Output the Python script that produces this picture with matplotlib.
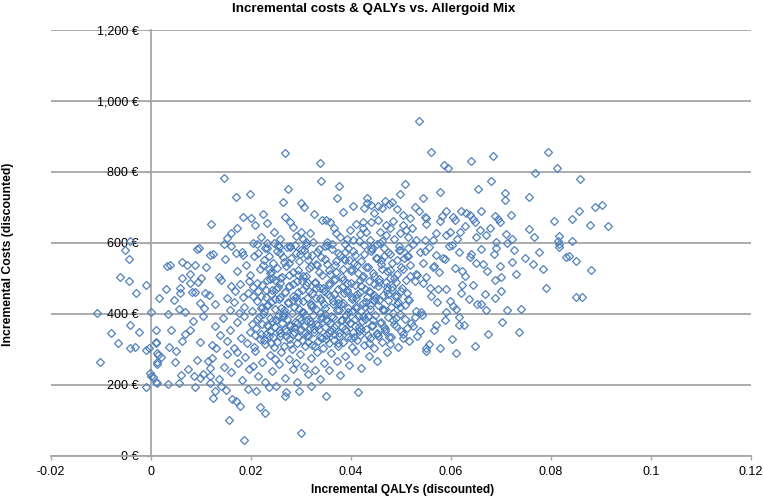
import matplotlib
matplotlib.use("Agg")
import matplotlib.pyplot as plt
from matplotlib.ticker import FuncFormatter

plt.rcParams["font.family"] = ["Liberation Sans", "DejaVu Sans"]

TITLE = "Incremental costs & QALYs vs. Allergoid Mix"
X_LABEL = "Incremental QALYs (discounted)"
Y_LABEL = "Incremental Costs (discounted)"
x_ticks = [-0.02, 0, 0.02, 0.04, 0.06, 0.08, 0.1, 0.12]
y_ticks = [0, 200, 400, 600, 800, 1000, 1200]

# (incremental QALYs, incremental costs in EUR)
neg_pts = [(-0.0107, 404), (-0.0101, 266), (-0.0079, 346), (-0.0065, 319), (-0.0062, 503),
           (-0.0052, 580), (-0.0042, 606), (-0.0043, 555), (-0.0043, 493), (-0.0029, 458),
           (-0.0041, 369), (-0.0023, 350), (-0.0042, 303), (-0.0032, 308), (-0.0010, 482),
           (-0.0009, 299), (-0.0004, 303), (-0.0002, 233), (-0.0009, 195)]

low_pts = [(0.0186, 45), (0.0156, 101), (0.0301, 64), (0.0228, 122), (0.0218, 139), (0.0178, 141),
           (0.0163, 160), (0.0170, 155), (0.0151, 186), (0.0125, 162), (0.0129, 184), (0.0088, 195),
           (0.0210, 184), (0.0237, 195), (0.0268, 169), (0.0271, 181), (0.0297, 184), (0.0350, 169),
           (0.0415, 181), (0.0140, 198), (0.0195, 190), (0.0320, 196), (0.0250, 198)]

band_200 = [(0.0000, 225), (0.0011, 209), (0.0004, 222), (0.0013, 206), (0.0012, 264), (0.0012, 290),
            (0.0015, 285), (0.0021, 280), (0.0013, 258), (0.0035, 203), (0.0048, 266), (0.0057, 205),
            (0.0061, 228), (0.0075, 244), (0.0086, 225), (0.0099, 219), (0.0105, 230), (0.0118, 225),
            (0.0118, 248), (0.0115, 268), (0.0118, 205), (0.0123, 275), (0.0551, 296), (0.0611, 291),
            (0.0050, 297), (0.0092, 271), (0.0137, 218), (0.0146, 251), (0.0153, 287), (0.0161, 236),
            (0.0174, 262), (0.0183, 213), (0.0189, 279), (0.0197, 244), (0.0208, 297), (0.0214, 226),
            (0.0223, 266), (0.0229, 208), (0.0238, 284), (0.0243, 239), (0.0256, 258), (0.0261, 292),
            (0.0269, 221), (0.0277, 273), (0.0284, 246), (0.0293, 208), (0.0299, 287), (0.0307, 252),
            (0.0314, 231), (0.0321, 275), (0.0333, 294), (0.0338, 217), (0.0347, 262), (0.0356, 241),
            (0.0361, 289), (0.0372, 268), (0.0379, 229), (0.0388, 281), (0.0397, 257), (0.0409, 296),
            (0.0421, 248), (0.0436, 283), (0.0452, 267), (0.0473, 294), (0.0205, 253), (0.0248, 272),
            (0.0172, 293), (0.0290, 262), (0.0328, 241), (0.0578, 303)]

band_300 = [(0.0122, 312), (0.0129, 367), (0.0138, 341), (0.0144, 389), (0.0153, 325), (0.0159, 356),
            (0.0167, 304), (0.0172, 378), (0.0181, 333), (0.0186, 395), (0.0193, 318), (0.0198, 349),
            (0.0203, 372), (0.0206, 308), (0.0211, 361), (0.0213, 386), (0.0218, 329), (0.0221, 344),
            (0.0224, 399), (0.0229, 315), (0.0232, 370), (0.0236, 337), (0.0238, 352), (0.0243, 381),
            (0.0246, 306), (0.0249, 364), (0.0253, 322), (0.0255, 393), (0.0259, 347), (0.0262, 374),
            (0.0266, 311), (0.0268, 358), (0.0273, 385), (0.0276, 330), (0.0279, 368), (0.0283, 302),
            (0.0285, 343), (0.0289, 377), (0.0292, 319), (0.0296, 390), (0.0299, 354), (0.0302, 327),
            (0.0306, 366), (0.0309, 309), (0.0311, 383), (0.0315, 339), (0.0318, 360), (0.0322, 314),
            (0.0325, 396), (0.0327, 348), (0.0331, 371), (0.0335, 323), (0.0338, 335), (0.0341, 388),
            (0.0344, 305), (0.0348, 362), (0.0351, 342), (0.0353, 379), (0.0357, 317), (0.0361, 353),
            (0.0364, 392), (0.0366, 328), (0.0371, 369), (0.0374, 310), (0.0377, 346), (0.0381, 384),
            (0.0384, 321), (0.0388, 357), (0.0391, 398), (0.0394, 336), (0.0398, 375), (0.0402, 307),
            (0.0405, 350), (0.0409, 387), (0.0412, 326), (0.0416, 363), (0.0419, 340), (0.0423, 380),
            (0.0427, 313), (0.0431, 358), (0.0434, 394), (0.0438, 331), (0.0443, 366), (0.0447, 303),
            (0.0452, 345), (0.0458, 376), (0.0463, 320), (0.0469, 359), (0.0474, 391), (0.0481, 334),
            (0.0487, 372), (0.0494, 308), (0.0501, 351), (0.0509, 385), (0.0516, 324), (0.0524, 365),
            (0.0533, 338), (0.0542, 397), (0.0557, 316), (0.0566, 355), (0.0588, 382), (0.0603, 329),
            (0.0627, 368), (0.0648, 311), (0.0675, 344),
            (0.0011, 355), (0.0041, 355), (0.0010, 322), (0.0037, 308), (0.0062, 324), (0.0098, 322),
            (0.0078, 355), (0.0131, 303), (0.0011, 319), (0.0737, 350), (0.0703, 378), (0.0617, 369),
            (0.0617, 391), (0.0571, 369), (0.0085, 380), (0.0105, 395), (0.0068, 345),
            (0.0208, 342), (0.0217, 391), (0.0227, 327), (0.0235, 366), (0.0241, 318), (0.0251, 383),
            (0.0258, 339), (0.0264, 397), (0.0271, 352), (0.0278, 316), (0.0287, 362), (0.0294, 334),
            (0.0301, 384), (0.0308, 347), (0.0314, 321), (0.0321, 373), (0.0329, 309), (0.0336, 357),
            (0.0343, 391), (0.0350, 329), (0.0358, 374), (0.0367, 343), (0.0375, 318), (0.0383, 362),
            (0.0392, 384), (0.0400, 331), (0.0408, 367), (0.0417, 352), (0.0425, 395), (0.0436, 317),
            (0.0445, 383), (0.0455, 339), (0.0466, 362), (0.0478, 316), (0.0491, 388), (0.0505, 333),
            (0.0520, 376), (0.0538, 352), (0.0550, 305), (0.0528, 392)]

band_400 = [(0.0046, 438), (0.0058, 472), (0.0069, 405), (0.0083, 461), (0.0094, 489), (0.0106, 417),
            (0.0117, 453), (0.0129, 428), (0.0140, 496), (0.0152, 444), (0.0158, 411), (0.0160, 478),
            (0.0167, 433), (0.0169, 466), (0.0176, 402), (0.0179, 485), (0.0185, 449), (0.0187, 421),
            (0.0194, 458), (0.0196, 493), (0.0203, 409), (0.0205, 475), (0.0212, 437), (0.0214, 464),
            (0.0221, 416), (0.0223, 482), (0.0230, 447), (0.0232, 425), (0.0239, 499), (0.0241, 456),
            (0.0248, 413), (0.0250, 470), (0.0257, 441), (0.0259, 487), (0.0266, 404), (0.0268, 462),
            (0.0275, 430), (0.0277, 479), (0.0284, 451), (0.0286, 419), (0.0293, 494), (0.0295, 436),
            (0.0302, 468), (0.0304, 407), (0.0311, 483), (0.0313, 445), (0.0320, 424), (0.0322, 459),
            (0.0329, 491), (0.0331, 414), (0.0338, 474), (0.0340, 439), (0.0347, 466), (0.0349, 401),
            (0.0356, 486), (0.0358, 452), (0.0365, 427), (0.0367, 497), (0.0374, 443), (0.0376, 410),
            (0.0383, 477), (0.0385, 432), (0.0392, 463), (0.0394, 418), (0.0401, 488), (0.0403, 448),
            (0.0410, 422), (0.0412, 457), (0.0419, 495), (0.0421, 408), (0.0428, 471), (0.0430, 435),
            (0.0437, 465), (0.0439, 415), (0.0446, 484), (0.0448, 446), (0.0455, 426), (0.0457, 498),
            (0.0464, 454), (0.0466, 412), (0.0473, 476), (0.0475, 440), (0.0482, 467), (0.0484, 403),
            (0.0491, 490), (0.0493, 450), (0.0499, 420), (0.0512, 460), (0.0528, 492), (0.0541, 406),
            (0.0559, 473), (0.0572, 434), (0.0590, 469), (0.0604, 423), (0.0622, 481), (0.0636, 442),
            (0.0653, 429), (0.0669, 455), (0.0688, 497), (0.0712, 411),
            (0.0204, 451), (0.0213, 486), (0.0222, 419), (0.0231, 467), (0.0240, 433), (0.0249, 495),
            (0.0258, 447), (0.0267, 412), (0.0276, 478), (0.0285, 439), (0.0294, 461), (0.0303, 405),
            (0.0312, 489), (0.0321, 427), (0.0330, 472), (0.0339, 444), (0.0348, 416), (0.0357, 483),
            (0.0366, 455), (0.0375, 432), (0.0384, 496), (0.0393, 468), (0.0402, 409), (0.0411, 446),
            (0.0420, 479), (0.0429, 421), (0.0438, 462), (0.0447, 438), (0.0456, 491), (0.0465, 414),
            (0.0474, 457), (0.0483, 476), (0.0492, 429), (0.0501, 465), (0.0515, 441), (0.0530, 408),
            (0.0545, 488), (0.0560, 452), (0.0575, 470), (0.0598, 436), (0.0620, 459), (0.0645, 481),
            (0.0660, 428), (0.0700, 466), (0.0740, 415), (0.0790, 472),
            (0.0000, 407), (0.0035, 400), (0.0611, 413), (0.0590, 406), (0.0671, 411), (0.0688, 444),
            (0.0850, 447), (0.0863, 447), (0.0063, 500), (0.0059, 458), (0.0078, 486), (0.0088, 463),
            (0.0099, 430), (0.0108, 458), (0.0057, 413), (0.0017, 445), (0.0030, 470)]

band_500 = [(0.0062, 547), (0.0078, 513), (0.0093, 582), (0.0110, 531), (0.0124, 568), (0.0137, 504),
            (0.0149, 556), (0.0161, 591), (0.0172, 522), (0.0183, 574), (0.0191, 538), (0.0198, 509),
            (0.0206, 563), (0.0213, 597), (0.0219, 527), (0.0226, 551), (0.0232, 585), (0.0239, 516),
            (0.0245, 543), (0.0252, 578), (0.0258, 502), (0.0265, 560), (0.0271, 534), (0.0278, 589),
            (0.0284, 519), (0.0291, 571), (0.0297, 548), (0.0304, 507), (0.0310, 594), (0.0317, 529),
            (0.0323, 565), (0.0330, 541), (0.0336, 583), (0.0343, 511), (0.0349, 556), (0.0356, 524),
            (0.0362, 598), (0.0369, 537), (0.0375, 572), (0.0382, 505), (0.0388, 553), (0.0395, 587),
            (0.0401, 528), (0.0408, 566), (0.0414, 515), (0.0421, 549), (0.0427, 593), (0.0434, 532),
            (0.0440, 577), (0.0447, 508), (0.0453, 559), (0.0460, 542), (0.0466, 586), (0.0473, 520),
            (0.0479, 569), (0.0486, 501), (0.0492, 551), (0.0499, 580), (0.0505, 526), (0.0512, 562),
            (0.0518, 539), (0.0525, 596), (0.0531, 512), (0.0538, 574), (0.0544, 545), (0.0551, 503),
            (0.0557, 588), (0.0564, 533), (0.0570, 567), (0.0577, 518), (0.0588, 555), (0.0597, 592),
            (0.0608, 530), (0.0617, 576), (0.0629, 506), (0.0638, 561), (0.0650, 544), (0.0661, 584),
            (0.0673, 521), (0.0686, 570), (0.0698, 536), (0.0713, 599), (0.0731, 514), (0.0748, 557),
            (0.0765, 540),
            (0.0215, 571), (0.0236, 528), (0.0257, 588), (0.0276, 545), (0.0295, 509), (0.0313, 566),
            (0.0333, 537), (0.0352, 594), (0.0371, 518), (0.0389, 575), (0.0407, 543), (0.0425, 506),
            (0.0443, 583), (0.0461, 552), (0.0478, 525), (0.0496, 591), (0.0514, 564), (0.0532, 511),
            (0.0549, 578), (0.0567, 534), (0.0585, 557), (0.0603, 595), (0.0622, 522), (0.0641, 569),
            (0.0665, 541), (0.0690, 586), (0.0243, 502), (0.0301, 579), (0.0386, 554), (0.0452, 598),
            (0.0033, 535), (0.0038, 537), (0.0097, 585), (0.0119, 566), (0.0171, 571), (0.0184, 565),
            (0.0701, 505), (0.0881, 524), (0.0851, 549), (0.0831, 561), (0.0836, 563), (0.0785, 527),
            (0.0777, 574), (0.0723, 546), (0.0726, 580), (0.0816, 598), (0.0816, 590), (0.0255, 594),
            (0.0278, 591), (0.0147, 597), (0.0073, 538), (0.0088, 538), (0.0101, 500)]

band_600 = [(0.0185, 674), (0.0201, 669), (0.0208, 651), (0.0268, 672), (0.0278, 660), (0.0120, 653),
            (0.0173, 643), (0.0233, 657), (0.0246, 632), (0.0220, 618), (0.0153, 613), (0.0291, 620),
            (0.0300, 630), (0.0305, 612), (0.0310, 602), (0.0307, 700), (0.0843, 667), (0.0806, 663),
            (0.0879, 651), (0.0915, 649), (0.0756, 639), (0.0767, 616), (0.0817, 621), (0.0815, 607),
            (0.0843, 607), (0.0721, 679), (0.0723, 610), (0.0856, 691), (0.0343, 665), (0.0359, 658),
            (0.0550, 669), (0.0590, 689), (0.0583, 676), (0.0621, 690), (0.0630, 684), (0.0638, 678),
            (0.0645, 668), (0.0648, 660), (0.0688, 676), (0.0695, 668), (0.0699, 660), (0.0427, 698),
            (0.0463, 698), (0.0233, 600), (0.0204, 600),
            (0.0351, 665), (0.0425, 658), (0.0441, 660), (0.0455, 665), (0.0471, 651), (0.0478, 641),
            (0.0505, 679), (0.0518, 670), (0.0505, 651), (0.0548, 674), (0.0551, 654), (0.0605, 674),
            (0.0608, 665), (0.0658, 637), (0.0671, 623), (0.0425, 641), (0.0431, 632), (0.0458, 632),
            (0.0471, 623), (0.0498, 627), (0.0511, 637), (0.0515, 618), (0.0531, 608), (0.0548, 608),
            (0.0565, 608), (0.0591, 623), (0.0598, 632), (0.0618, 632), (0.0651, 618), (0.0691, 604),
            (0.0371, 627), (0.0378, 618), (0.0398, 637), (0.0405, 608), (0.0438, 608),
            (0.0258, 612), (0.0285, 645), (0.0318, 628), (0.0327, 681), (0.0352, 604), (0.0366, 641),
            (0.0384, 687), (0.0392, 612), (0.0411, 653), (0.0418, 626), (0.0447, 684), (0.0462, 606),
            (0.0485, 662), (0.0492, 695), (0.0523, 641), (0.0537, 690), (0.0571, 629), (0.0579, 662),
            (0.0612, 612), (0.0628, 648), (0.0661, 691), (0.0679, 642), (0.0710, 625), (0.0225, 682),
            (0.0160, 628)]

high_pts = [(0.0536, 943), (0.0561, 855), (0.0586, 820), (0.0594, 812), (0.0640, 831), (0.0684, 845),
            (0.0681, 774), (0.0655, 752), (0.0709, 742), (0.0708, 721), (0.0579, 743), (0.0545, 728),
            (0.0508, 765), (0.0499, 737), (0.0340, 774), (0.0376, 761), (0.0373, 728), (0.0433, 728),
            (0.0405, 704), (0.0455, 704), (0.0468, 718), (0.0483, 715), (0.0529, 700), (0.0338, 826),
            (0.0268, 853), (0.0147, 782), (0.0275, 752), (0.0170, 729), (0.0199, 738), (0.0265, 716),
            (0.0301, 714), (0.0794, 857), (0.0813, 812), (0.0769, 796), (0.0858, 780), (0.0756, 729),
            (0.0889, 700), (0.0903, 707), (0.0433, 712), (0.0441, 706), (0.0476, 709)]

# the crowded centre of the cloud, where diamonds pile on top of each other
core_pts = [(0.0220, 452), (0.0223, 371), (0.0224, 538), (0.0227, 409), (0.0228, 587), (0.0231, 344),
            (0.0232, 496), (0.0235, 425), (0.0236, 563), (0.0239, 389), (0.0240, 517), (0.0243, 468),
            (0.0244, 336), (0.0247, 601), (0.0248, 441), (0.0251, 384), (0.0252, 529), (0.0255, 477),
            (0.0256, 355), (0.0259, 572), (0.0260, 418), (0.0263, 503), (0.0264, 392), (0.0267, 546),
            (0.0268, 461), (0.0271, 338), (0.0272, 589), (0.0275, 433), (0.0276, 511), (0.0279, 365),
            (0.0280, 557), (0.0283, 402), (0.0284, 484), (0.0287, 349), (0.0288, 595), (0.0291, 447),
            (0.0292, 376), (0.0295, 524), (0.0296, 414), (0.0299, 568), (0.0300, 359), (0.0303, 492),
            (0.0304, 437), (0.0307, 581), (0.0308, 397), (0.0311, 508), (0.0312, 342), (0.0315, 553),
            (0.0316, 466), (0.0319, 380), (0.0320, 535), (0.0323, 421), (0.0324, 604), (0.0327, 357),
            (0.0328, 488), (0.0331, 445), (0.0332, 576), (0.0335, 368), (0.0336, 519), (0.0339, 403),
            (0.0340, 561), (0.0343, 333), (0.0344, 473), (0.0347, 428), (0.0348, 592), (0.0351, 386),
            (0.0352, 541), (0.0355, 456), (0.0356, 347), (0.0359, 514), (0.0360, 395), (0.0363, 583),
            (0.0364, 436), (0.0367, 362), (0.0368, 499), (0.0371, 548), (0.0372, 412), (0.0375, 471),
            (0.0376, 339), (0.0379, 566), (0.0380, 427), (0.0383, 382), (0.0384, 527), (0.0387, 459),
            (0.0388, 597), (0.0391, 351), (0.0392, 486), (0.0395, 405), (0.0396, 552), (0.0399, 374),
            (0.0400, 522), (0.0403, 443), (0.0404, 578), (0.0407, 334), (0.0408, 481), (0.0411, 416),
            (0.0412, 539), (0.0415, 393), (0.0416, 607), (0.0419, 462), (0.0420, 358), (0.0423, 505),
            (0.0424, 431), (0.0427, 569), (0.0428, 387), (0.0431, 533), (0.0432, 449), (0.0435, 341),
            (0.0436, 494), (0.0439, 424), (0.0440, 585), (0.0443, 369), (0.0444, 515), (0.0447, 454),
            (0.0448, 398), (0.0451, 557), (0.0452, 346), (0.0455, 479), (0.0456, 438), (0.0459, 599),
            (0.0460, 378), (0.0463, 526), (0.0464, 411), (0.0467, 563), (0.0468, 353), (0.0471, 490),
            (0.0472, 467), (0.0475, 574), (0.0476, 335), (0.0479, 501), (0.0480, 420), (0.0483, 545),
            (0.0484, 383), (0.0487, 610), (0.0488, 451), (0.0491, 366), (0.0492, 512), (0.0495, 434),
            (0.0496, 580), (0.0499, 400), (0.0500, 531), (0.0503, 474), (0.0504, 343), (0.0507, 559),
            (0.0508, 426), (0.0511, 497), (0.0512, 361), (0.0515, 586), (0.0516, 440), (0.0519, 508)]

points = (neg_pts + low_pts + band_200 + band_300 + band_400 + band_500 + band_600
          + high_pts + core_pts)
qalys = [p[0] for p in points]
costs = [p[1] for p in points]

fig = plt.figure(figsize=(7.63, 4.99), dpi=100)
ax = fig.add_axes([0.0668, 0.0862, 0.9174, 0.8537])

grid_col = "#A6A6A6"
ax.plot(qalys, costs, linestyle="none", marker="D", ms=3.7, mfc="none",
        mec="#4F81BD", mew=0.9, zorder=3)

ax.set_xlim(-0.02, 0.12)
ax.set_ylim(0, 1200)
ax.set_xticks(x_ticks)
ax.set_yticks(y_ticks)
ax.xaxis.set_major_formatter(FuncFormatter(lambda v, p: f"{v:g}"))
ax.yaxis.set_major_formatter(FuncFormatter(lambda v, p: f"{v:,.0f} €"))
ax.yaxis.grid(True, color=grid_col, linewidth=1.3)
ax.set_axisbelow(True)

for s in ["top", "right"]:
    ax.spines[s].set_visible(False)
ax.spines["left"].set_position(("data", 0))
ax.spines["left"].set_color(grid_col)
ax.spines["bottom"].set_color(grid_col)
ax.spines["left"].set_linewidth(1.3)
ax.spines["bottom"].set_linewidth(1.3)
ax.tick_params(axis="x", colors=grid_col, labelcolor="black", length=3, width=1.0,
               labelsize=9, pad=4)
ax.tick_params(axis="y", colors=grid_col, labelcolor="black", length=3, width=1.0,
               labelsize=9, pad=6)

fig.text(0.49, 0.982, TITLE, ha="center", va="center", fontsize=9.6, fontweight="bold")
fig.text(0.528, 0.018, X_LABEL, ha="center", va="center", fontsize=8.6, fontweight="bold")
fig.text(0.011, 0.49, Y_LABEL, ha="center", va="center", rotation=90,
         fontsize=8.8, fontweight="bold")

fig.savefig("out.png", dpi=100)
